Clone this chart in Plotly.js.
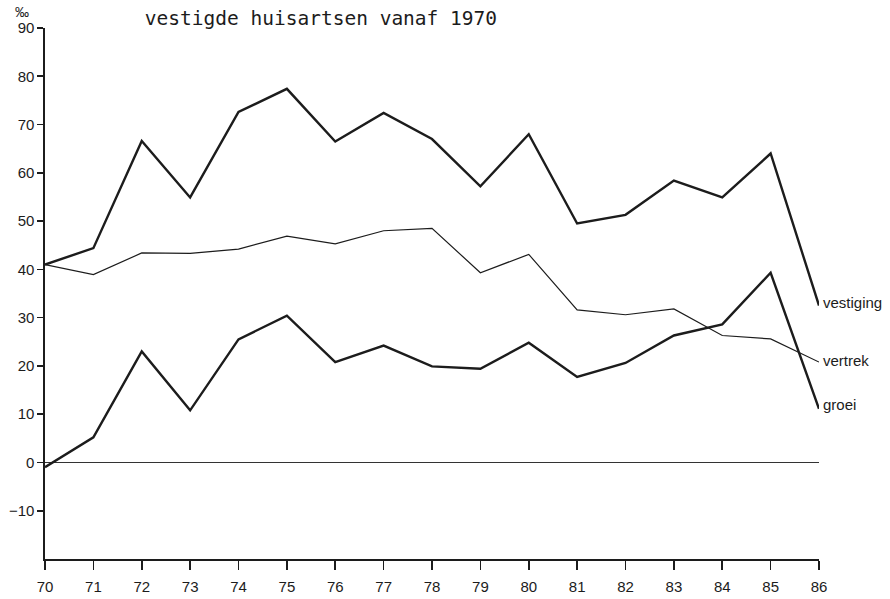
<!DOCTYPE html>
<html>
<head>
<meta charset="utf-8">
<script src="https://cdn.plot.ly/plotly-3.0.1.min.js"></script>
<style>
  html, body { margin: 0; padding: 0; background: #fff; }
  #chart { width: 890px; height: 599px; }
</style>
</head>
<body>
<div id="chart"></div>
<script>
// jaren 1970 - 1986 (as-labels 70..86)
var years = [70, 71, 72, 73, 74, 75, 76, 77, 78, 79, 80, 81, 82, 83, 84, 85, 86];

// promille
var vestiging = [41.0, 44.4, 66.6, 54.9, 72.6, 77.4, 66.5, 72.4, 67.0, 57.2, 68.0, 49.5, 51.3, 58.4, 54.9, 64.0, 32.5];
var vertrek   = [41.0, 38.9, 43.4, 43.3, 44.2, 46.9, 45.3, 48.0, 48.5, 39.3, 43.1, 31.6, 30.6, 31.8, 26.3, 25.6, 20.8];
var groei     = [-1.0, 5.2, 23.0, 10.8, 25.5, 30.4, 20.8, 24.2, 19.9, 19.4, 24.8, 17.7, 20.6, 26.3, 28.6, 39.3, 11.1];

var yTicks = [-10, 0, 10, 20, 30, 40, 50, 60, 70, 80, 90];

var ink = '#1c1c1c';
var font = 'Liberation Sans, Arial, sans-serif';

function serie(name, vals, width) {
  return {
    x: years, y: vals, name: name,
    type: 'scatter', mode: 'lines',
    line: {color: ink, width: width},
    hoverinfo: 'skip'
  };
}

var data = [
  serie('vestiging', vestiging, 2.4),
  serie('vertrek', vertrek, 1.2),
  serie('groei', groei, 2.4)
];

// eindlabels naast de laatste punten
var labelShift = {vestiging: 3, vertrek: 2, groei: 4};
var annotations = data.map(function (t) {
  return {
    x: years[years.length - 1], y: t.y[t.y.length - 1],
    xref: 'x', yref: 'y',
    text: t.name, showarrow: false,
    xanchor: 'left', yanchor: 'middle',
    xshift: 2, yshift: labelShift[t.name],
    font: {family: font, size: 15, color: ink}
  };
});

// promilleteken boven de y-as
annotations.push({
  x: -0.03, y: 1, xref: 'paper', yref: 'paper',
  xanchor: 'center', yanchor: 'bottom', yshift: 6,
  text: '‰', showarrow: false,
  font: {family: font, size: 14, color: ink}
});

var layout = {
  width: 890, height: 599,
  margin: {l: 45, r: 71, t: 28, b: 40},
  paper_bgcolor: '#fff', plot_bgcolor: '#fff',
  showlegend: false,
  title: {
    text: 'vestigde huisartsen vanaf 1970',
    font: {family: 'DejaVu Sans Mono, monospace', size: 19.5, color: ink},
    xref: 'paper', x: 0.129, xanchor: 'left',
    yref: 'container', y: 0.97, yanchor: 'middle'
  },
  xaxis: {
    range: [70, 86],
    tickvals: years,
    ticktext: years.map(String),
    showgrid: false, zeroline: false,
    showline: true, linecolor: ink, linewidth: 1.6,
    ticks: 'outside', ticklen: 9, tickwidth: 1.6, tickcolor: ink,
    ticklabelstandoff: 4,
    tickfont: {family: font, size: 15, color: ink}
  },
  yaxis: {
    range: [-20, 90],
    tickvals: yTicks,
    ticktext: yTicks.map(function (v) { return v < 0 ? '\u2212' + Math.abs(v) : String(v); }),
    showgrid: false,
    zeroline: true, zerolinecolor: '#333', zerolinewidth: 1.2,
    showline: true, linecolor: ink, linewidth: 1.6,
    ticks: 'outside', ticklen: 6, tickwidth: 1.6, tickcolor: ink,
    tickfont: {family: font, size: 15, color: ink}
  },
  annotations: annotations
};

Plotly.newPlot('chart', data, layout, {displayModeBar: false, staticPlot: true});
</script>
</body>
</html>
